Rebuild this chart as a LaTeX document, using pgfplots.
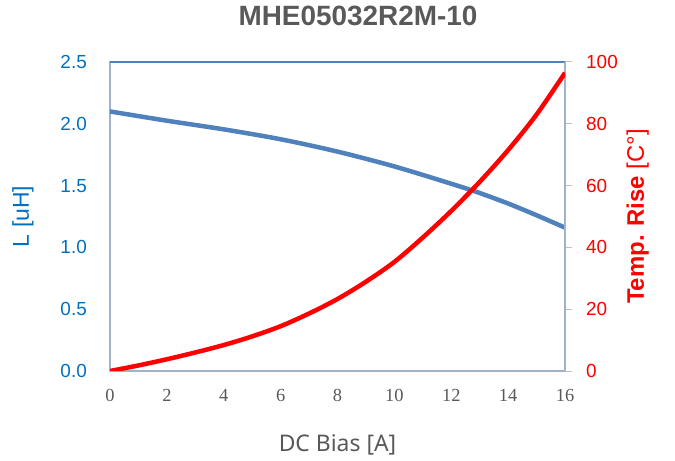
\documentclass[border=0pt]{standalone}
\usepackage{fontspec}
\setmainfont{Liberation Sans}
\newfontfamily\serifx{Liberation Serif}
\newfontfamily\notos{Noto Sans}
\usepackage{pgfplots}
\pgfplotsset{compat=1.18}
\definecolor{lblue}{RGB}{79,129,189}
\definecolor{tblue}{RGB}{0,112,192}
\definecolor{tred}{RGB}{255,0,0}
\definecolor{tgray}{RGB}{89,89,89}
\definecolor{framec}{RGB}{160,178,204}
\begin{document}
\begin{tikzpicture}
\useasboundingbox (-110bp,-90bp) rectangle (565bp,371bp);
\begin{axis}[
  at={(0,0)}, anchor=south west,
  scale only axis, width=455bp, height=309bp,
  xmin=0, xmax=16, ymin=0, ymax=2.5,
  xtick={0,2,...,16}, ytick={0,0.5,1,1.5,2,2.5},
  axis line style={draw=framec, line width=1.5bp},
  major tick length=0pt,
  xtick pos=bottom, ytick pos=left,
  /pgf/number format/assume math mode=true,
  yticklabel style={/pgf/number format/.cd, fixed, fixed zerofill, precision=1, /tikz/.cd,
     font=\fontsize{19}{19}\selectfont, text=tblue, anchor=east, inner sep=0pt, xshift=-23bp},
  xticklabel style={font=\serifx\fontsize{18.5}{18.5}\selectfont, text=tgray, anchor=center, inner sep=0pt, yshift=-24bp},
  ylabel={L [uH]},
  ylabel style={font=\fontsize{23}{23}\selectfont, text=tblue, at={(axis description cs:-0.1912,0.5)}, anchor=center},
  xlabel={DC Bias [A]},
  xlabel style={font=\notos\fontsize{23}{23}\selectfont, text=tgray, at={(axis description cs:0.5,-0.2395)}, anchor=center},
  title={MHE05032R2M-10},
  title style={font=\bfseries\fontsize{28}{28}\selectfont, text=tgray, at={(axis description cs:0.545,1.1294)}, anchor=center},
]
\addplot[lblue, line width=4.5bp, smooth] coordinates {
 (0,2.10) (2,2.025) (4,1.955) (6,1.875) (8,1.775) (10,1.655) (12,1.515) (13,1.44) (14,1.355) (15,1.26) (16,1.16)};
\draw[lblue, line width=2.5bp] (rel axis cs:0,1) -- (rel axis cs:1,1);
\end{axis}
\begin{axis}[
  at={(0,0)}, anchor=south west,
  scale only axis, width=455bp, height=309bp,
  xmin=0, xmax=16, ymin=0, ymax=100,
  axis x line=none, axis y line*=right,
  ytick={0,20,...,100},
  axis line style={draw=framec, line width=1.5bp},
  y tick style={draw=gray!50, line width=1bp},
  tick align=outside, major tick length=7bp,
  /pgf/number format/assume math mode=true,
  yticklabel style={font=\fontsize{19}{19}\selectfont, text=tred, anchor=west, inner sep=0pt, xshift=14bp},
  ylabel={\textbf{Temp. Rise} [C°]},
  ylabel style={font=\fontsize{24}{24}\selectfont, text=tred, at={(axis description cs:1.16,0.5)}, anchor=center},
]
\addplot[tred, line width=4.5bp, smooth] coordinates {
 (0,0) (1,1.8) (2,3.8) (3,6.0) (4,8.4) (5,11.2) (6,14.5) (7,18.6) (8,23.3) (9,28.9) (10,35.3) (11,43.2) (12,51.8) (13,61.2) (14,71.5) (15,83) (16,96.5)};
\end{axis}
\end{tikzpicture}
\end{document}
